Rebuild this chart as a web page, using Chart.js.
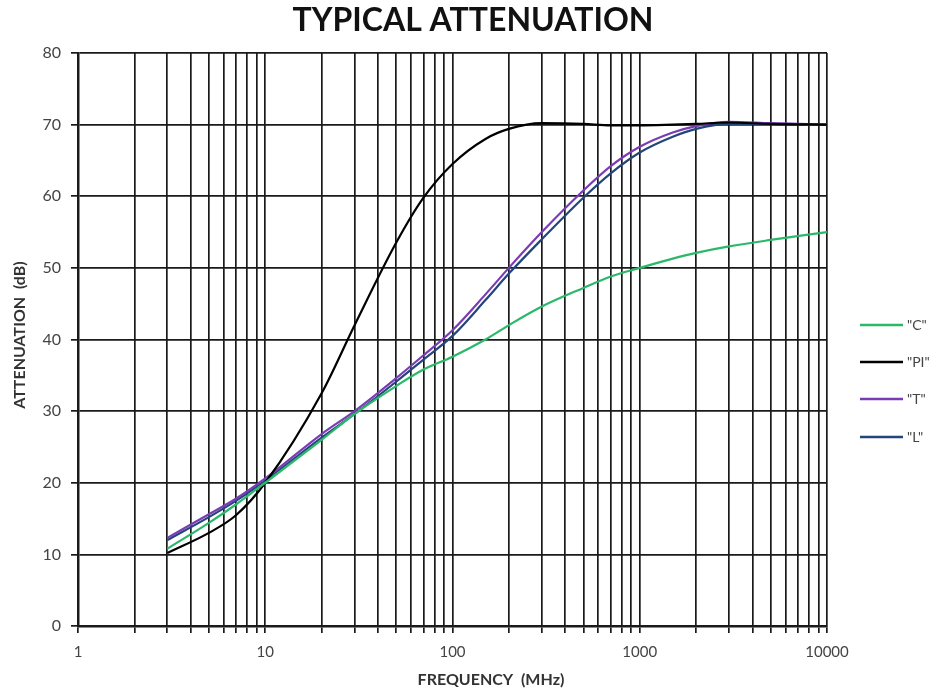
<!DOCTYPE html>
<html>
<head>
<meta charset="utf-8">
<title>Typical attenuation</title>
<script src="https://cdn.jsdelivr.net/npm/chart.js@4.4.1/dist/chart.umd.min.js"></script>
<style>
  html, body { margin: 0; padding: 0; background: #ffffff; }
  #wrap { width: 940px; height: 695px; }
</style>
</head>
<body>
<div id="wrap"><canvas id="myChart" width="940" height="695"></canvas></div>
<script>
// Данные
const freqs = [3, 5, 7, 10, 20, 30, 50, 70, 100, 150, 200, 300, 500, 700, 1000, 1500, 2000, 3000, 5000, 10000];
const seriesC  = [10.8, 14.4, 17.0, 20.0, 26.0, 29.6, 33.5, 35.8, 37.6, 40.0, 42.0, 44.6, 47.2, 48.8, 50.0, 51.3, 52.1, 53.0, 53.9, 55.0];
const seriesPI = [10.2, 13.0, 15.5, 20.0, 32.5, 42.0, 53.5, 59.8, 64.5, 68.0, 69.4, 70.2, 70.1, 69.9, 69.9, 70.0, 70.1, 70.3, 70.1, 70.0];
const seriesT  = [12.3, 15.6, 17.8, 20.6, 26.8, 30.0, 34.6, 37.8, 41.3, 46.3, 50.0, 55.0, 60.8, 64.2, 66.9, 68.9, 69.8, 70.4, 70.2, 70.0];
const seriesL  = [12.0, 15.2, 17.5, 20.3, 26.3, 29.6, 34.1, 37.2, 40.5, 45.5, 49.2, 54.0, 59.8, 63.2, 66.1, 68.3, 69.4, 70.1, 70.1, 70.0];
const seriesNames = ['"C"', '"PI"', '"T"', '"L"'];
const xTickLabels = [1, 10, 100, 1000, 10000];
const yTickLabels = [0, 10, 20, 30, 40, 50, 60, 70, 80];

const gridColor = '#1a1a1a';
const labelColor = '#444444';

function toPoints(values) {
    return freqs.map((f, i) => ({ x: f, y: values[i] }));
}

// Заголовок, легенда и подписи осей рисуются поверх графика
const extrasPlugin = {
    id: 'extras',
    afterDraw(chart) {
        const ctx = chart.ctx;
        ctx.save();
        // заголовок
        ctx.fillStyle = '#111111';
        ctx.font = 'bold 32px Lato, sans-serif';
        ctx.textAlign = 'center';
        ctx.textBaseline = 'middle';
        ctx.fillText('TYPICAL ATTENUATION', 473, 21);
        // легенда справа
        const legendY = [325, 362, 399, 437];
        chart.data.datasets.forEach((ds, i) => {
            ctx.strokeStyle = ds.borderColor;
            ctx.lineWidth = 2.5;
            ctx.beginPath();
            ctx.moveTo(860, legendY[i]);
            ctx.lineTo(903, legendY[i]);
            ctx.stroke();
            ctx.fillStyle = labelColor;
            ctx.font = '14px Lato, sans-serif';
            ctx.textAlign = 'left';
            ctx.textBaseline = 'middle';
            ctx.fillText(ds.label, 907, legendY[i]);
        });
        // подпись оси X
        ctx.fillStyle = '#333333';
        ctx.font = 'bold 16px Lato, sans-serif';
        ctx.textAlign = 'center';
        ctx.textBaseline = 'middle';
        ctx.fillText('FREQUENCY  (MHz)', 491, 680);
        // подпись оси Y
        ctx.translate(20, 335);
        ctx.rotate(-Math.PI / 2);
        ctx.fillText('ATTENUATION  (dB)', 0, 0);
        ctx.restore();
    }
};

const ctx = document.getElementById('myChart').getContext('2d');
const myChart = new Chart(ctx, {
    type: 'line',
    data: {
        datasets: [
            { label: seriesNames[0], data: toPoints(seriesC),  borderColor: '#2bb86a' },
            { label: seriesNames[1], data: toPoints(seriesPI), borderColor: '#000000' },
            { label: seriesNames[2], data: toPoints(seriesT),  borderColor: '#7a3cb4' },
            { label: seriesNames[3], data: toPoints(seriesL),  borderColor: '#24457c' }
        ]
    },
    options: {
        responsive: false,
        animation: false,
        layout: {
            padding: { top: 53, left: 0, right: 113, bottom: 0 }
        },
        elements: {
            point: { radius: 0 },
            line: { borderWidth: 2.2, cubicInterpolationMode: 'monotone', fill: false }
        },
        scales: {
            x: {
                type: 'logarithmic',
                min: 1,
                max: 10000,
                afterBuildTicks: function (scale) {
                    const ticks = [];
                    for (let d = 1; d < 10000; d *= 10) {
                        for (let k = 1; k < 10; k++) ticks.push({ value: d * k });
                    }
                    ticks.push({ value: 10000 });
                    scale.ticks = ticks;
                },
                afterFit: function (scale) {
                    scale.height = 69;
                },
                grid: {
                    color: gridColor,
                    lineWidth: 1.7,
                    tickLength: 7,
                    drawTicks: true
                },
                border: { display: true, color: gridColor, width: 2.5 },
                ticks: {
                    autoSkip: false,
                    maxRotation: 0,
                    padding: 10,
                    color: labelColor,
                    font: { size: 15, family: 'Lato, sans-serif' },
                    callback: function (value) {
                        return xTickLabels.includes(value) ? String(value) : '';
                    }
                }
            },
            y: {
                type: 'linear',
                min: yTickLabels[0],
                max: yTickLabels[yTickLabels.length - 1],
                afterBuildTicks: function (scale) {
                    scale.ticks = yTickLabels.map(v => ({ value: v }));
                },
                afterFit: function (scale) {
                    scale.width = 78;
                },
                grid: {
                    color: gridColor,
                    lineWidth: 1.7,
                    tickLength: 7,
                    drawTicks: true
                },
                border: { display: true, color: gridColor, width: 2.5 },
                ticks: {
                    padding: 10,
                    color: labelColor,
                    font: { size: 16, family: 'Lato, sans-serif' }
                }
            }
        },
        plugins: {
            legend: { display: false },
            tooltip: { enabled: false },
            title: { display: false }
        }
    },
    plugins: [extrasPlugin]
});
</script>
</body>
</html>
